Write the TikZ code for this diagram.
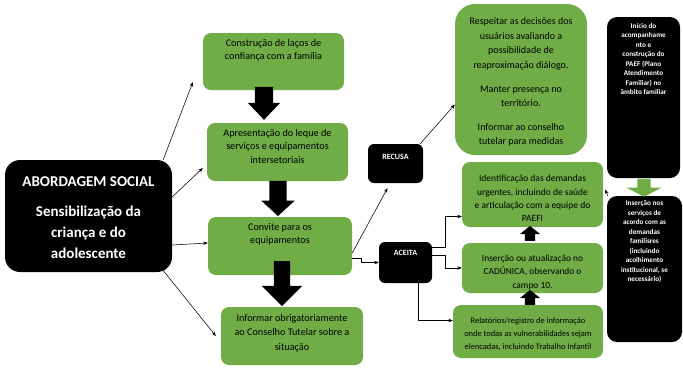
\documentclass[tikz,border=0pt]{standalone}
\usepackage{fontspec}
\setmainfont{Carlito}
\usetikzlibrary{arrows.meta, shapes.arrows}

\definecolor{boxgreen}{RGB}{112,173,71}

\begin{document}
\begin{tikzpicture}[
    x=1pt, y=-1pt,
    gbox/.style={fill=boxgreen, rounded corners=8pt, inner sep=0pt},
    bbox/.style={fill=black, rounded corners=8pt, inner sep=0pt},
    gtext/.style={anchor=north, align=center, inner sep=0pt, yshift=-6pt,
        font=\fontsize{10.2}{13.5}\selectfont},
    btext/.style={anchor=north, align=center, inner sep=0pt, text=white,
        font=\bfseries\fontsize{7.2}{9.5}\selectfont},
    block/.style={single arrow, fill=black, inner xsep=0pt, single arrow head indent=0pt},
    conn/.style={draw=black, line width=0.55pt, -{Stealth[length=4.5pt, width=3.5pt]}}
]
\useasboundingbox (0,0) rectangle (683,368);

% Left column
\node[bbox, rounded corners=15pt, minimum width=167, minimum height=112,
    label={[btext, yshift=-17pt, font=\bfseries\fontsize{15}{21}\selectfont]north:{ABORDAGEM SOCIAL\\[9pt]Sensibilização da\\criança e do\\adolescente}}]
    (abordagem) at (88.5,216) {};

\node[gbox, minimum width=141, minimum height=57,
    label={[gtext]north:{Construção de laços de\\confiança com a família}}] (lacos) at (273.5,61.5) {};
\node[gbox, minimum width=141, minimum height=58,
    label={[gtext]north:{Apresentação do leque de\\serviços e equipamentos\\intersetoriais}}] (leque) at (277.5,152) {};
\node[gbox, minimum width=144, minimum height=58,
    label={[gtext]north:{Convite para os\\equipamentos}}] (convite) at (280,246) {};
\node[gbox, minimum width=142, minimum height=58,
    label={[gtext, yshift=-1pt, font=\fontsize{10.2}{14.5}\selectfont]north:{Informar obrigatoriamente\\ao Conselho Tutelar sobre a\\situação}}] (informar) at (292,336) {};

% Block arrows between steps
\node[block, rotate=-90, inner ysep=9pt, minimum height=33, single arrow head extend=7pt, single arrow tip angle=87] (seta1) at (264,98.5) {};
\node[block, rotate=-90, inner ysep=8.5pt, minimum height=35, single arrow head extend=8pt, single arrow tip angle=95] (seta2) at (278,194.5) {};
\node[block, rotate=-90, inner ysep=8pt, minimum height=45, single arrow head extend=12pt, single arrow tip angle=90] (seta3) at (282,279.5) {};

% Decision
\node[bbox, rounded corners=6pt, minimum width=55, minimum height=39,
    label={[btext, yshift=-10pt, font=\bfseries\fontsize{8}{10}\selectfont]north:RECUSA}] (recusa) at (395.5,163.5) {};
\node[bbox, rounded corners=6pt, minimum width=53, minimum height=41,
    label={[btext, yshift=-8.5pt, font=\bfseries\fontsize{8}{10}\selectfont]north:ACEITA}] (aceita) at (405.5,262.5) {};

% Right side
\node[gbox, rounded corners=20pt, minimum width=132, minimum height=151,
    label={[gtext, yshift=-8pt, font=\fontsize{10}{14.4}\selectfont]north:{Respeitar as decisões dos\\usuários avaliando a\\possibilidade de\\reaproximação diálogo.\\[9.5pt]Manter presença no\\território.\\[9.5pt]Informar ao conselho\\tutelar para medidas}}]
    (respeitar) at (521,79.5) {};
\node[gbox, minimum width=141, minimum height=65,
    label={[gtext, yshift=-7pt, font=\fontsize{9.5}{13.4}\selectfont]north:{Identificação das demandas\\urgentes, incluindo de saúde\\e articulação com a equipe do\\PAEFI}}] (identificacao) at (532.5,194.5) {};
\node[gbox, minimum width=141, minimum height=50,
    label={[gtext, yshift=-6pt, font=\fontsize{9.4}{13.4}\selectfont]north:{Inserção ou atualização no\\CADÚNICA, observando o\\campo 10.}}] (insercao) at (532.5,268) {};
\node[gbox, minimum width=150, minimum height=53,
    label={[gtext, yshift=-7pt, font=\fontsize{8.4}{13}\selectfont]north:{Relatórios/registro de informação\\onde todas as vulnerabilidades sejam\\elencadas, incluindo Trabalho Infantil}}] (relatorios) at (528,331.5) {};

\node[block, rotate=90, inner ysep=5pt, minimum height=15, single arrow head extend=5pt, single arrow tip angle=102] (seta4) at (530,235.5) {};
\node[block, rotate=90, inner ysep=5pt, minimum height=15, single arrow head extend=5pt, single arrow tip angle=102] (seta5) at (530,299.5) {};

\node[bbox, rounded corners=10pt, minimum width=73, minimum height=161,
    label={[btext, yshift=-6pt]north:{Início do\\acompanhame\\nto e\\construção do\\PAEF (Plano\\Atendimento\\Familiar) no\\âmbito familiar}}] (inicio) at (643.5,97.5) {};
\node[bbox, rounded corners=10pt, minimum width=75, minimum height=146,
    label={[btext, yshift=-5pt]north:{Inserção nos\\serviços de\\acordo com as\\demandas\\familisres\\(incluindo\\acolhimento\\institucional, se\\necessário)}}] (servicos) at (644.5,269) {};
\node[block, fill=boxgreen, rotate=-90, inner ysep=6.5pt, minimum height=18, single arrow head extend=11pt, single arrow tip angle=125] (setaverde) at (644,186) {};

% Connectors
\draw[conn] ([xshift=-9pt]abordagem.north east) -- ([shift={(-10pt,8pt)}]lacos.south west);
\draw[conn] ([yshift=19pt]abordagem.east) -- ([shift={(-4pt,-16pt)}]leque.west);
\draw[conn] ([yshift=-29pt]abordagem.east) -- ([yshift=3pt]convite.west);
\draw[conn] ([shift={(-10pt,3pt)}]abordagem.south east) -- ([xshift=-5pt]informar.west);

\draw[conn] ([yshift=-7pt]convite.east) -- ([shift={(-8pt,-5pt)}]recusa.south);
\draw[conn] ([yshift=-12pt]convite.east) -- ++(9,0) |- (aceita.west);
\draw[conn] ([xshift=-3pt]recusa.north east) -- ([yshift=-25pt]respeitar.west);

\draw[conn] ([yshift=15pt]aceita.east) -- ++(13,0) |- ([yshift=-22pt]identificacao.west);
\draw[conn] ([yshift=7pt]aceita.east) -- ++(13,0) |- (insercao.west);
\draw[conn] ([xshift=12.5pt]aceita.south) |- ([yshift=11pt]relatorios.west);
\draw[conn] ([xshift=1pt]servicos.north west) -- ([shift={(2pt,5pt)}]identificacao.east);

\end{tikzpicture}
\end{document}
